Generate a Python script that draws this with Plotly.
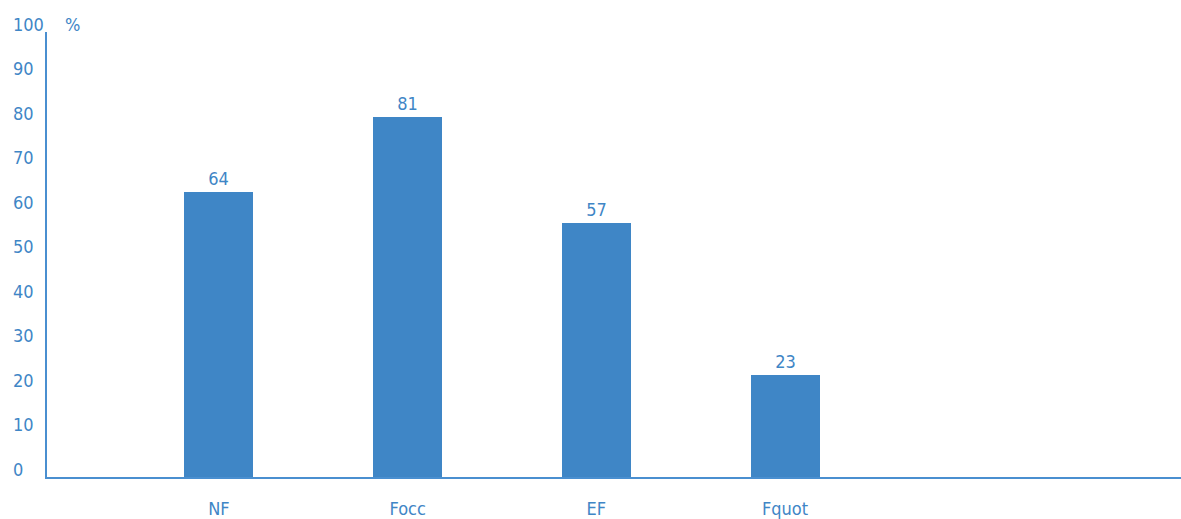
import plotly.graph_objects as go

categories = ["NF", "Focc", "EF", "Fquot"]
values = [64, 81, 57, 23]
y_ticks = [0, 10, 20, 30, 40, 50, 60, 70, 80, 90, 100]

BLUE = "#3F86C6"
LINE = "#4A8FD0"
FONT = "Liberation Sans Narrow, DejaVu Sans Condensed, Roboto, sans-serif"
FS = 18

fig = go.Figure()
fig.add_trace(go.Bar(
    x=list(range(len(categories))),
    y=values,
    width=0.366,
    marker=dict(color=BLUE, line=dict(width=0)),
    text=[str(v) for v in values],
    textposition="outside",
    textfont=dict(color=BLUE, size=FS, family=FONT),
    cliponaxis=False,
))

fig.update_layout(
    width=1181, height=519,
    margin=dict(l=47, r=0, t=32, b=39),
    paper_bgcolor="white", plot_bgcolor="white",
    showlegend=False,
    font=dict(family=FONT, color=BLUE, size=FS),
    xaxis=dict(
        range=[-0.911, 5.098],
        tickmode="array",
        tickvals=list(range(len(categories))),
        ticktext=categories,
        showgrid=False, zeroline=False,
        showline=True, linecolor=LINE, linewidth=2,
        ticks="", tickfont=dict(color=BLUE, size=FS, family=FONT),
        ticklabelstandoff=14,
        layer="below traces",
    ),
    yaxis=dict(
        range=[0, 100],
        showgrid=False, zeroline=False,
        showline=True, linecolor=LINE, linewidth=2,
        ticks="", showticklabels=False,
    ),
    bargap=0,
)

# y tick labels, left-aligned as in the reference
for t in y_ticks:
    fig.add_annotation(
        text=str(t), xref="paper", yref="y", x=0, y=t,
        xanchor="left", yanchor="middle", xshift=-36, yshift=8,
        showarrow=False, font=dict(color=BLUE, size=FS, family=FONT),
    )

fig.add_annotation(
    text="%", xref="paper", yref="paper", x=0, y=1,
    xanchor="left", yanchor="middle", xshift=16, yshift=8,
    showarrow=False, font=dict(color=BLUE, size=FS, family=FONT),
)

fig.write_html("out.html")
